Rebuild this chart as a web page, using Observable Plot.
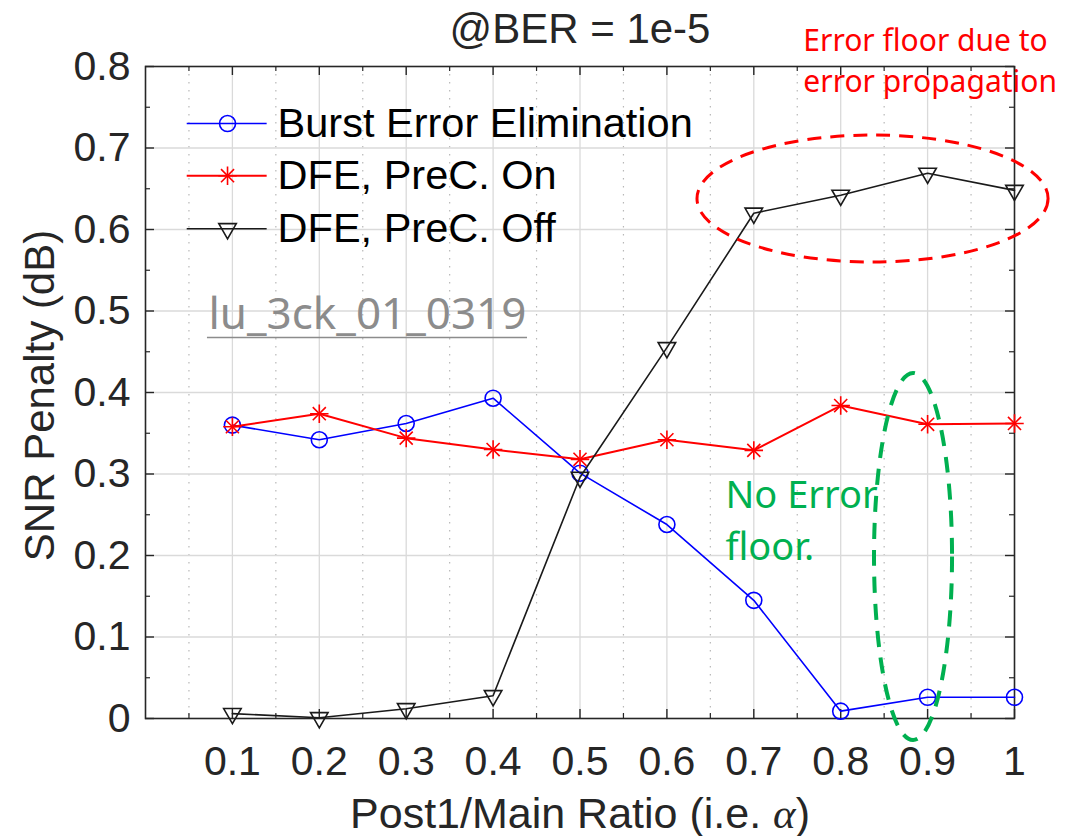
<!DOCTYPE html>
<html>
<head>
<meta charset="utf-8">
<script src="https://cdn.jsdelivr.net/npm/d3@7"></script>
<script src="https://cdn.jsdelivr.net/npm/@observablehq/plot@0.6"></script>
<style>
  html, body { margin: 0; padding: 0; background: #ffffff; }
  #chart { width: 1092px; height: 836px; }
</style>
</head>
<body>
<div id="chart"></div>
<script>
// ---------------- data ----------------
const alphaValues = [0.1, 0.2, 0.3, 0.4, 0.5, 0.6, 0.7, 0.8, 0.9, 1.0];
const burstErrorElimination = [0.360, 0.342, 0.362, 0.393, 0.301, 0.238, 0.145, 0.009, 0.026, 0.026];
const dfePrecOn  = [0.358, 0.374, 0.344, 0.330, 0.318, 0.342, 0.329, 0.384, 0.361, 0.362];
const dfePrecOff = [0.006, 0.001, 0.012, 0.028, 0.296, 0.455, 0.620, 0.642, 0.669, 0.648];
const seriesNames = ["Burst Error Elimination", "DFE, PreC. On", "DFE, PreC. Off"];

const xTickValues = [0.1, 0.2, 0.3, 0.4, 0.5, 0.6, 0.7, 0.8, 0.9, 1];
const xTickLabels = ["0.1", "0.2", "0.3", "0.4", "0.5", "0.6", "0.7", "0.8", "0.9", "1"];
const xMinorValues = [0.05, 0.15, 0.25, 0.35, 0.45, 0.55, 0.65, 0.75, 0.85, 0.95];
const yTickValues = [0, 0.1, 0.2, 0.3, 0.4, 0.5, 0.6, 0.7, 0.8];
const yTickLabels = ["0", "0.1", "0.2", "0.3", "0.4", "0.5", "0.6", "0.7", "0.8"];
const yMinorValues = [0.05, 0.15, 0.25, 0.35, 0.45, 0.55, 0.65, 0.75];

const titleText = "@BER = 1e-5";
const xLabelText = "Post1/Main Ratio (i.e. α)";
const yLabelText = "SNR Penalty (dB)";
const noteRed = ["Error floor due to", "error propagation"];
const noteGreen = ["No Error", "floor."];
const watermark = "lu_3ck_01_0319";

// ---------------- build ----------------
const rows = (vals) => alphaValues.map((a, i) => ({x: a, y: vals[i]}));
const blueRows = rows(burstErrorElimination);
const redRows = rows(dfePrecOn);
const blackRows = rows(dfePrecOff);

const W = 1092, H = 836;
const mL = 145, mR = 78, mT = 66, mB = 118;
const fw = W - mL - mR, fh = H - mT - mB;
const px2x = (p) => p / fw;          // pixel length -> x units
const px2y = (p) => p * 0.8 / fh;    // pixel length -> y units

const axisFont = "'Liberation Sans', Arial, Helvetica, sans-serif";
const noteFont = "'Noto Sans', 'Open Sans', sans-serif";

const majTick = 9, minTick = 5;
const tickColor = "#262626";

function ellipseMark(cx, cy, rx, ry, color, width, dash) {
  return (index, scales) => {
    const el = document.createElementNS("http://www.w3.org/2000/svg", "ellipse");
    const X = scales.x, Y = scales.y;
    el.setAttribute("cx", X(cx));
    el.setAttribute("cy", Y(cy));
    el.setAttribute("rx", Math.abs(X(cx + rx) - X(cx)));
    el.setAttribute("ry", Math.abs(Y(cy + ry) - Y(cy)));
    el.setAttribute("fill", "none");
    el.setAttribute("stroke", color);
    el.setAttribute("stroke-width", width);
    el.setAttribute("stroke-dasharray", dash);
    return el;
  };
}

// legend placement (data units)
const legX1 = 0.048, legX2 = 0.140, legXm = 0.0944, legXt = 0.152;
const legY = [0.730, 0.666, 0.601];

const chart = Plot.plot({
  width: W,
  height: H,
  marginLeft: mL, marginRight: mR, marginTop: mT, marginBottom: mB,
  style: {fontFamily: axisFont, fontSize: "41px", color: "#262626", background: "#ffffff", overflow: "visible"},
  x: {domain: [0, 1], ticks: xTickValues, tickFormat: (d) => xTickLabels[xTickValues.indexOf(d)] ?? String(d), tickSize: 0, tickPadding: 27, label: null},
  y: {domain: [0, 0.8], ticks: yTickValues, tickFormat: (d) => yTickLabels[yTickValues.indexOf(d)] ?? String(d), tickSize: 0, tickPadding: 15, label: null},
  marks: [
    // grid
    Plot.ruleX(xMinorValues, {stroke: "#b8b8b8", strokeWidth: 1.2, strokeDasharray: "1.5,6.5"}),
    Plot.ruleX(xTickValues.slice(0, 9), {stroke: "#dadada", strokeWidth: 1.3}),
    Plot.ruleY(yTickValues.slice(1, 8), {stroke: "#dadada", strokeWidth: 1.3}),
    // box
    Plot.frame({stroke: tickColor, strokeWidth: 1.6}),
    // inward ticks
    Plot.ruleX(xTickValues, {y1: 0, y2: px2y(majTick), stroke: tickColor, strokeWidth: 1.4}),
    Plot.ruleX(xTickValues, {y1: 0.8 - px2y(majTick), y2: 0.8, stroke: tickColor, strokeWidth: 1.4}),
    Plot.ruleX(xMinorValues, {y1: 0, y2: px2y(minTick), stroke: tickColor, strokeWidth: 1.2}),
    Plot.ruleX(xMinorValues, {y1: 0.8 - px2y(minTick), y2: 0.8, stroke: tickColor, strokeWidth: 1.2}),
    Plot.ruleY(yTickValues, {x1: 0, x2: px2x(majTick), stroke: tickColor, strokeWidth: 1.4}),
    Plot.ruleY(yTickValues, {x1: 1 - px2x(majTick), x2: 1, stroke: tickColor, strokeWidth: 1.4}),
    Plot.ruleY(yMinorValues, {x1: 0, x2: px2x(minTick), stroke: tickColor, strokeWidth: 1.2}),
    Plot.ruleY(yMinorValues, {x1: 1 - px2x(minTick), x2: 1, stroke: tickColor, strokeWidth: 1.2}),

    // series
    Plot.line(blueRows, {x: "x", y: "y", stroke: "#0000ff", strokeWidth: 1.6}),
    Plot.dot(blueRows, {x: "x", y: "y", r: 8, symbol: "circle", stroke: "#0000ff", strokeWidth: 1.6, fill: "none"}),
    Plot.line(redRows, {x: "x", y: "y", stroke: "#ff0000", strokeWidth: 2}),
    Plot.dot(redRows, {x: "x", y: "y", r: 6, symbol: "plus", stroke: "#ff0000", strokeWidth: 1.6}),
    Plot.dot(redRows, {x: "x", y: "y", r: 6, symbol: "times", stroke: "#ff0000", strokeWidth: 1.6}),
    Plot.line(blackRows, {x: "x", y: "y", stroke: "#1a1a1a", strokeWidth: 1.6}),
    Plot.dot(blackRows, {x: "x", y: "y", r: 6.5, symbol: "triangle", rotate: 180, stroke: "#1a1a1a", strokeWidth: 1.6, fill: "none"}),

    // legend
    Plot.ruleY([legY[0]], {x1: legX1, x2: legX2, stroke: "#0000ff", strokeWidth: 1.6}),
    Plot.dot([legY[0]], {x: legXm, y: (d) => d, r: 8, symbol: "circle", stroke: "#0000ff", strokeWidth: 1.6, fill: "none"}),
    Plot.ruleY([legY[1]], {x1: legX1, x2: legX2, stroke: "#ff0000", strokeWidth: 2}),
    Plot.dot([legY[1]], {x: legXm, y: (d) => d, r: 6, symbol: "plus", stroke: "#ff0000", strokeWidth: 1.6}),
    Plot.dot([legY[1]], {x: legXm, y: (d) => d, r: 6, symbol: "times", stroke: "#ff0000", strokeWidth: 1.6}),
    Plot.ruleY([legY[2]], {x1: legX1, x2: legX2, stroke: "#1a1a1a", strokeWidth: 1.6}),
    Plot.dot([legY[2]], {x: legXm, y: (d) => d, r: 6.5, symbol: "triangle", rotate: 180, stroke: "#1a1a1a", strokeWidth: 1.6, fill: "none"}),
    Plot.text(seriesNames, {x: legXt, y: (d, i) => legY[i], text: (d) => d, textAnchor: "start", lineAnchor: "middle", fontSize: 41.5, fill: "#000000"}),

    // watermark
    Plot.text([watermark], {x: 0.0725, y: 0.4785, text: (d) => d, textAnchor: "start", lineAnchor: "bottom", fontSize: 44, fontFamily: noteFont, fill: "#8c8c8c"}),
    Plot.ruleY([0.4675], {x1: 0.0713, x2: 0.4396, stroke: "#8c8c8c", strokeWidth: 1.6}),

    // annotations
    ellipseMark(0.8372, 0.6374, 0.2020, 0.0779, "#ff0000", 3, "14,9"),
    ellipseMark(0.8838, 0.1982, 0.0449, 0.2252, "#00b050", 4, "16,11"),
    Plot.text(noteRed, {x: 0.757, y: (d, i) => [0.8196, 0.7693][i], text: (d) => d, textAnchor: "start", lineAnchor: "bottom", fontSize: 30, fontFamily: noteFont, fill: "#ff0000"}),
    Plot.text(noteGreen, {x: 0.6674, y: (d, i) => [0.2577, 0.194][i], text: (d) => d, textAnchor: "start", lineAnchor: "bottom", fontSize: 38, fontFamily: noteFont, fill: "#00b050"}),

    // title and axis labels
    Plot.text([titleText], {frameAnchor: "top", text: (d) => d, dy: -24, textAnchor: "middle", lineAnchor: "bottom", fontSize: 42, fill: "#262626"}),
    Plot.text([xLabelText], {frameAnchor: "bottom", text: (d) => d, dy: 109, textAnchor: "middle", lineAnchor: "bottom", fontSize: 43, fill: "#262626"}),
    Plot.text([yLabelText], {frameAnchor: "left", text: (d) => d, dx: -92, dy: 3, rotate: -90, textAnchor: "middle", lineAnchor: "bottom", fontSize: 42, fill: "#262626"})
  ]
});

// italic alpha in the x label (TeX style)
chart.querySelectorAll("text").forEach((t) => {
  if (t.textContent === xLabelText) {
    const parts = xLabelText.split("α");
    t.textContent = "";
    const ns = "http://www.w3.org/2000/svg";
    const a = document.createElementNS(ns, "tspan"); a.textContent = parts[0];
    const b = document.createElementNS(ns, "tspan"); b.textContent = "α";
    b.setAttribute("font-style", "italic");
    b.setAttribute("font-family", "'Liberation Serif', 'DejaVu Serif', serif");
    const c = document.createElementNS(ns, "tspan"); c.textContent = parts[1];
    t.append(a, b, c);
  }
});

document.getElementById("chart").appendChild(chart);
</script>
</body>
</html>
